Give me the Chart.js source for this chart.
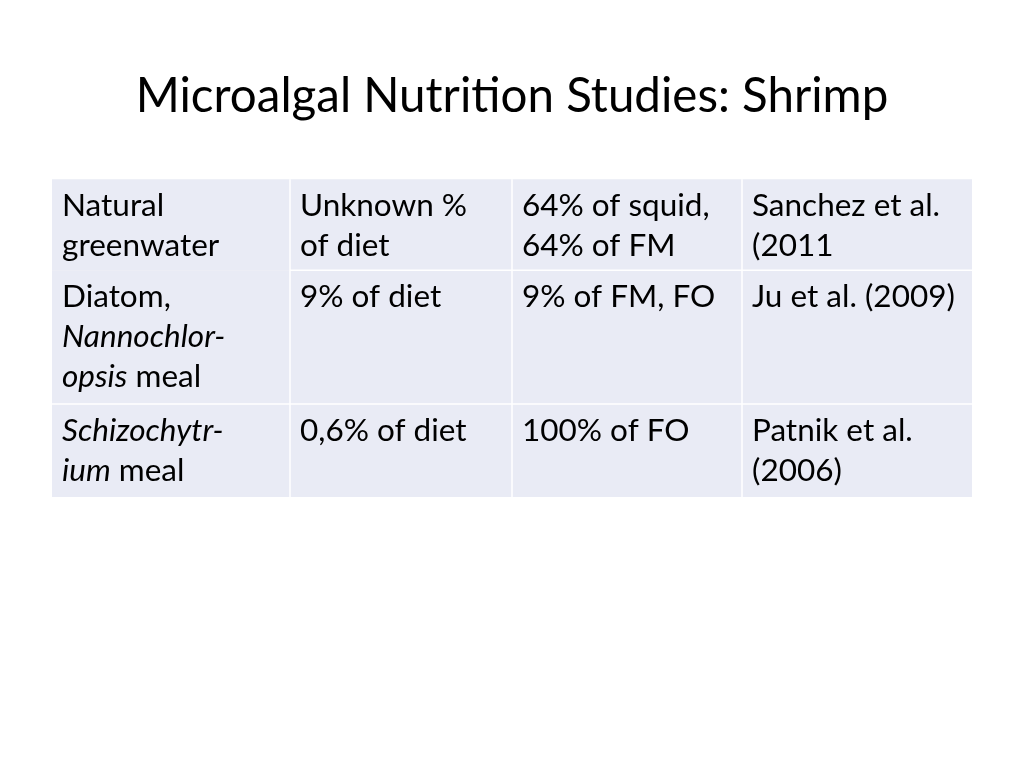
<!DOCTYPE html>
<html>
<head>
<meta charset="utf-8">
<script src="https://cdn.jsdelivr.net/npm/chart.js@4"></script>
<style>
  html, body { margin: 0; padding: 0; background: #fff; }
  #wrap { width: 1024px; height: 768px; position: relative; }
</style>
</head>
<body>
<div id="wrap"><canvas id="chart"></canvas></div>
<script>
// table content, one array per column (*...* marks italic text, \n a line break)
const organisms = ['Natural\ngreenwater', 'Diatom,\n*Nannochlor-*\n*opsis* meal', '*Schizochytr-*\n*ium* meal'];
const inclusion = ['Unknown %\nof diet', '9% of diet', '0,6% of diet'];
const replacement = ['64% of squid,\n64% of FM', '9% of FM, FO', '100% of FO'];
const references = ['Sanchez et al.\n(2011', 'Ju et al. (2009)', 'Patnik et al.\n(2006)'];
const columns = [organisms, inclusion, replacement, references];

// cell edges in table units
const colEdges = [0, 238, 460, 690, 920];
const rowEdges = [0, 91, 225, 318];

const FONT = 'Lato, "Open Sans", sans-serif';
const FONT_SIZE = 31.5;
const LINE_H = 40;

function segments(line) {
    // split "*abc* def" into [{t:'abc', it:true}, {t:' def', it:false}]
    const parts = line.split('*');
    return parts.map((t, i) => ({ t: t, it: i % 2 === 1 })).filter(p => p.t.length);
}

const tablePlugin = {
    id: 'tablePlugin',
    beforeDatasetsDraw(chart) {
        const { ctx, scales } = chart;
        const x = scales.x, y = scales.y;
        ctx.save();
        // cell backgrounds
        for (let c = 0; c < columns.length; c++) {
            for (let r = 0; r < organisms.length; r++) {
                const x0 = x.getPixelForValue(colEdges[c]), x1 = x.getPixelForValue(colEdges[c + 1]);
                const y0 = y.getPixelForValue(rowEdges[r]), y1 = y.getPixelForValue(rowEdges[r + 1]);
                ctx.fillStyle = '#e9ebf5';
                ctx.fillRect(x0, y0, x1 - x0, y1 - y0);
            }
        }
        // thin white grid lines
        ctx.strokeStyle = '#ffffff';
        ctx.lineWidth = 1.5;
        for (let c = 1; c < colEdges.length - 1; c++) {
            const px = x.getPixelForValue(colEdges[c]);
            ctx.beginPath();
            ctx.moveTo(px, y.getPixelForValue(rowEdges[0]));
            ctx.lineTo(px, y.getPixelForValue(rowEdges[rowEdges.length - 1]));
            ctx.stroke();
        }
        for (let r = 1; r < rowEdges.length - 1; r++) {
            const py = y.getPixelForValue(rowEdges[r]);
            // first row boundary is not drawn under the first column
            const startCol = r === 1 ? 1 : 0;
            ctx.beginPath();
            ctx.moveTo(x.getPixelForValue(colEdges[startCol]), py);
            ctx.lineTo(x.getPixelForValue(colEdges[colEdges.length - 1]), py);
            ctx.stroke();
        }
        // cell text
        ctx.fillStyle = '#000000';
        ctx.textBaseline = 'alphabetic';
        ctx.textAlign = 'left';
        columns.forEach((col, c) => {
            col.forEach((txt, r) => {
                const left = x.getPixelForValue(colEdges[c]) + 10;
                const top = y.getPixelForValue(rowEdges[r]);
                txt.split('\n').forEach((line, i) => {
                    let px = left;
                    const base = top + 37 + i * LINE_H;
                    segments(line).forEach(seg => {
                        ctx.font = (seg.it ? 'italic ' : '') + FONT_SIZE + 'px ' + FONT;
                        ctx.fillText(seg.t, px, base);
                        px += ctx.measureText(seg.t).width;
                    });
                });
            });
        });
        ctx.restore();
    }
};

new Chart(document.getElementById('chart'), {
    type: 'scatter',
    data: { datasets: [{ data: [] }] },
    options: {
        responsive: true,
        maintainAspectRatio: false,
        animation: false,
        layout: { padding: { left: 52, right: 52, top: 0, bottom: 271 } },
        scales: {
            x: { type: 'linear', display: false, min: colEdges[0], max: colEdges[colEdges.length - 1] },
            y: { type: 'linear', display: false, reverse: true, min: rowEdges[0], max: rowEdges[rowEdges.length - 1] }
        },
        plugins: {
            legend: { display: false },
            tooltip: { enabled: false },
            title: {
                display: true,
                text: 'Microalgal Nutrition Studies: Shrimp',
                color: '#000000',
                font: { family: FONT, size: 47.5, weight: 'normal', lineHeight: 1.1 },
                padding: { top: 71, bottom: 56 }
            }
        }
    },
    plugins: [tablePlugin]
});
</script>
</body>
</html>
